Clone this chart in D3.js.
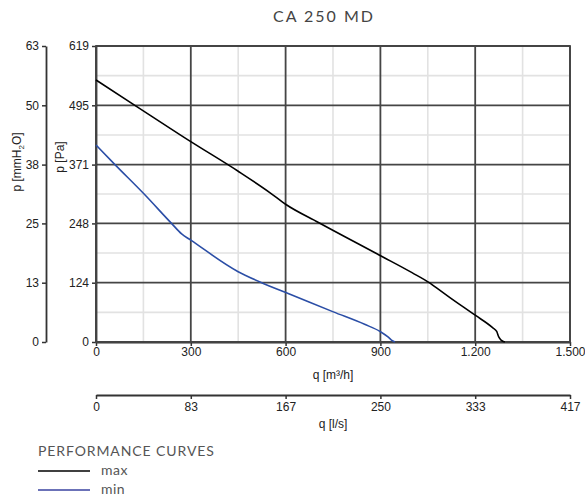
<!DOCTYPE html>
<html><head><meta charset="utf-8">
<script src="https://cdn.jsdelivr.net/npm/d3@7"></script>
<style>
body{margin:0;background:#fff;}
svg text{font-family:"Liberation Sans",Arial,sans-serif;}
</style></head>
<body><svg id="c" width="585" height="501"></svg>
<script>
// ---- data ----
const title = "CA 250 MD";
const maxQ = [0,123,300,450,551,600,704,899,1000,1057,1080,1120,1200,1255,1268,1275,1282,1294];
const maxP = [548,495,419,357,312,288,250,181,145,123,112,93,56,30,22,10,4,0];
const minQ = [0,60,150,239,271,300,450,524,614,751,850,899,925,935,946];
const minP = [412,371,311,248,226,213,147,124,100,63,37,22,10,4,0];
const xTicks = [0,300,600,900,1200,1500];
const xTickLabels = ["0","300","600","900","1.200","1.500"];
const paTicks = [0,124,248,371,495,619];
const mmTickLabels = ["0","13","25","38","50","63"];
const lsTicks = [0,83.33,166.67,250,333.33,416.67];
const lsTickLabels = ["0","83","167","250","333","417"];
const series = [
  {name:"max", q:maxQ, p:maxP, color:"#000000", legend:"#000000"},
  {name:"min", q:minQ, p:minP, color:"#2b4ea6", legend:"#3a43a0"}
];

// ---- layout ----
const L=96, R=570, T=46, B=342;
const svg = d3.select("#c");
const x = d3.scaleLinear().domain([0,1500]).range([L,R]);
const y = d3.scaleLinear().domain([0,619]).range([B,T]);
const mm = d3.scaleLinear().domain([0,619/9.81]).range([B,T]);
const ls = d3.scaleLinear().domain([0,1500/3.6]).range([L,R]);

// minor grid
const xMinor = xTicks.slice(0,-1).map((d,i)=>(d+xTicks[i+1])/2);
const yMinor = paTicks.slice(0,-1).map((d,i)=>(d+paTicks[i+1])/2);
svg.append("g").selectAll("line").data(xMinor).join("line")
  .attr("x1",d=>x(d)).attr("x2",d=>x(d)).attr("y1",T).attr("y2",B)
  .attr("stroke","#e2e2e2").attr("stroke-width",1.6);
svg.append("g").selectAll("line").data(yMinor).join("line")
  .attr("y1",d=>y(d)).attr("y2",d=>y(d)).attr("x1",L).attr("x2",R)
  .attr("stroke","#e2e2e2").attr("stroke-width",1.6);
// major grid
svg.append("g").selectAll("line").data(xTicks).join("line")
  .attr("x1",d=>x(d)).attr("x2",d=>x(d)).attr("y1",T).attr("y2",B)
  .attr("stroke","#454545").attr("stroke-width",1.8);
svg.append("g").selectAll("line").data(paTicks).join("line")
  .attr("y1",d=>y(d)).attr("y2",d=>y(d)).attr("x1",L).attr("x2",R)
  .attr("stroke","#454545").attr("stroke-width",1.8);

// axes
function styleAxis(g){
  g.selectAll("path").attr("stroke","#333").attr("stroke-width",1.8);
  g.selectAll("line").attr("stroke","#333").attr("stroke-width",1.5);
  g.selectAll("text").attr("fill","#222").style("font-size","12px").style("font-family","'Liberation Sans',Arial,sans-serif");
}
svg.append("g").attr("transform",`translate(${L},0)`)
  .call(d3.axisLeft(y).tickValues(paTicks).tickSize(4).tickSizeOuter(0).tickPadding(3).tickFormat(d=>d))
  .call(styleAxis);
svg.append("g").attr("transform",`translate(46,0)`)
  .call(d3.axisLeft(mm).tickValues(paTicks.map(d=>d/9.81)).tickSize(4).tickSizeOuter(0).tickPadding(3)
    .tickFormat((d,i)=>mmTickLabels[i]))
  .call(styleAxis);
svg.append("g").attr("transform",`translate(0,${B})`)
  .call(d3.axisBottom(x).tickValues(xTicks).tickSize(4).tickSizeOuter(0).tickPadding(1)
    .tickFormat((d,i)=>xTickLabels[i]))
  .call(styleAxis);
svg.append("g").attr("transform",`translate(0,395)`)
  .call(d3.axisBottom(ls).tickValues(lsTicks).tickSize(4).tickSizeOuter(0).tickPadding(3)
    .tickFormat((d,i)=>lsTickLabels[i]))
  .call(styleAxis);

// plot border
svg.append("rect").attr("x",L).attr("y",T).attr("width",R-L).attr("height",B-T)
  .attr("fill","none").attr("stroke","#454545").attr("stroke-width",1.8);

// axis labels
svg.append("text").attr("x",333).attr("y",379).attr("text-anchor","middle")
  .style("font-size","12px").attr("fill","#222").text("q [m³/h]");
svg.append("text").attr("x",333).attr("y",428).attr("text-anchor","middle")
  .style("font-size","12px").attr("fill","#222").text("q [l/s]");
svg.append("text").attr("transform","translate(64,157) rotate(-90)").attr("text-anchor","middle")
  .style("font-size","12px").attr("fill","#222").text("p [Pa]");
const mmLab = svg.append("text").attr("transform","translate(21,162) rotate(-90)").attr("text-anchor","middle")
  .style("font-size","12px").attr("fill","#222");
mmLab.append("tspan").text("p [mmH");
mmLab.append("tspan").attr("dy",3).style("font-size","8px").text("2");
mmLab.append("tspan").attr("dy",-3).text("O]");

// curves
const line = d3.line().x(d=>x(d[0])).y(d=>y(d[1])).curve(d3.curveMonotoneX);
svg.append("g").selectAll("path").data(series).join("path")
  .attr("d",s=>line(s.q.map((q,i)=>[q,s.p[i]])))
  .attr("fill","none").attr("stroke",s=>s.color).attr("stroke-width",1.6);

// title
svg.append("text").attr("x",324).attr("y",22).attr("text-anchor","middle")
  .style("font-family","Lato, 'Noto Sans', sans-serif").style("font-size","16px")
  .style("letter-spacing","2px").attr("fill","#444").text(title);

// legend
svg.append("text").attr("x",38).attr("y",456)
  .style("font-family","Lato, 'Noto Sans', sans-serif").style("font-size","14px")
  .style("letter-spacing","0.9px").attr("fill","#555").text("PERFORMANCE CURVES");
const lg = svg.append("g").selectAll("g").data(series).join("g")
  .attr("transform",(d,i)=>`translate(38,${471+i*19})`);
lg.append("line").attr("x1",0).attr("x2",52).attr("y1",0).attr("y2",0)
  .attr("stroke",d=>d.legend).attr("stroke-width",1.4);
lg.append("text").attr("x",63).attr("y",4)
  .style("font-family","Lato, 'Noto Sans', sans-serif").style("font-size","14px")
  .style("letter-spacing","0.5px").attr("fill","#555").text(d=>d.name);
</script></body></html>
